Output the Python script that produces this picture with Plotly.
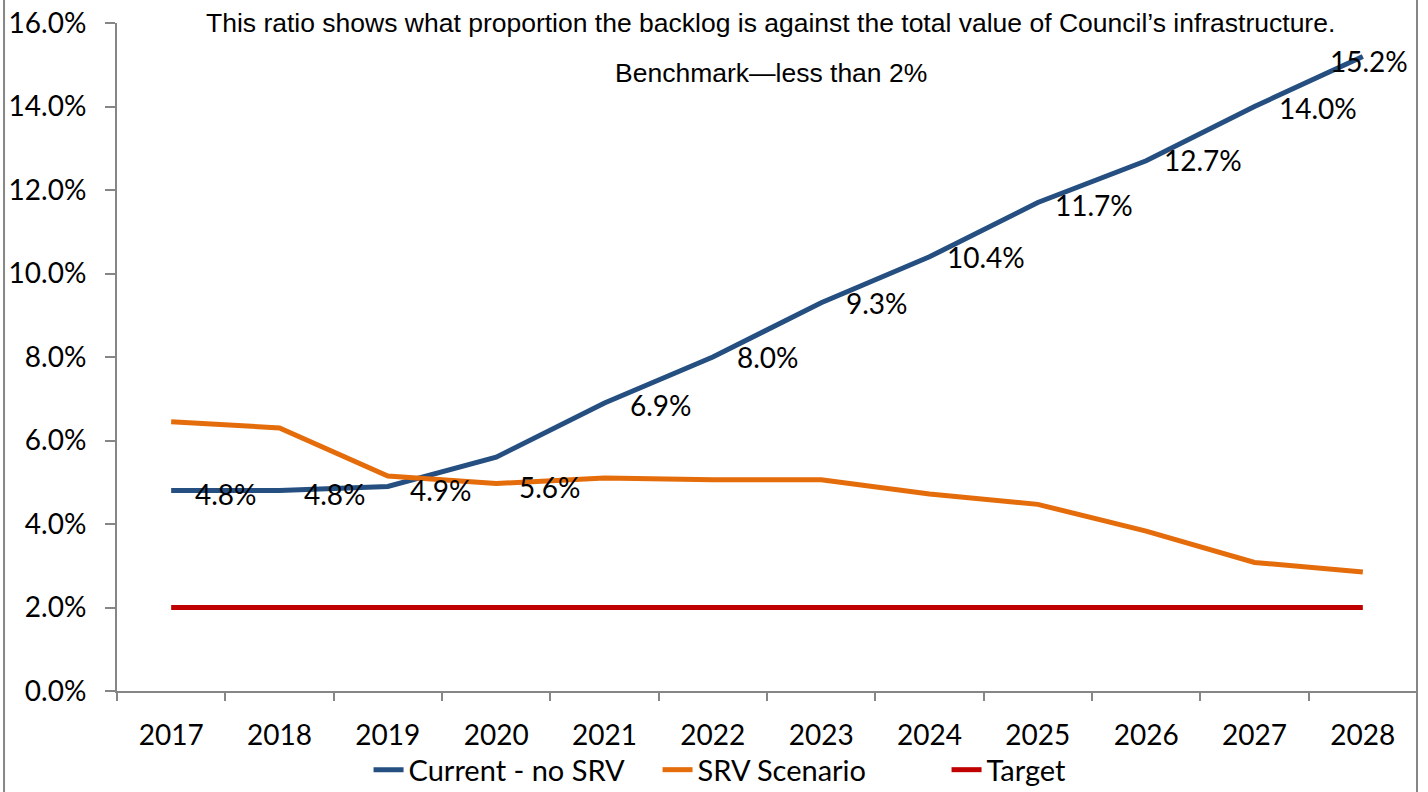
import plotly.graph_objects as go

years = ["2017", "2018", "2019", "2020", "2021", "2022", "2023", "2024", "2025", "2026", "2027", "2028"]
current_no_srv = [4.8, 4.8, 4.9, 5.6, 6.9, 8.0, 9.3, 10.4, 11.7, 12.7, 14.0, 15.2]
srv_scenario = [6.45, 6.3, 5.15, 4.97, 5.1, 5.06, 5.06, 4.72, 4.47, 3.83, 3.08, 2.85]
target = [2.0] * 12
current_labels = ["4.8%", "4.8%", "4.9%", "5.6%", "6.9%", "8.0%", "9.3%", "10.4%", "11.7%", "12.7%", "14.0%", "15.2%"]

FONT = "Lato"
GRAY = "#868686"

fig = go.Figure()
fig.add_trace(go.Scatter(x=years, y=[v / 100 for v in current_no_srv], mode="lines",
                         name="Current - no SRV", line=dict(color="#254F80", width=5)))
fig.add_trace(go.Scatter(x=years, y=[v / 100 for v in srv_scenario], mode="lines",
                         name="SRV Scenario", line=dict(color="#E46C0A", width=5)))
fig.add_trace(go.Scatter(x=years, y=[v / 100 for v in target], mode="lines",
                         name="Target", line=dict(color="#C00000", width=5)))

xshifts = [55, 55, 53, 54, 56, 55, 56, 56, 56, 57, 63, 6]
yshifts = [-3, -3, -4, -30, -2, 0, 0, 0, -2, 1, -1, -5]
annotations = []
for i, (v, lab) in enumerate(zip(current_no_srv, current_labels)):
    annotations.append(dict(xref="x", yref="y", x=i, y=v / 100, text=lab, showarrow=False,
                            xanchor="center", yanchor="middle",
                            xshift=xshifts[i], yshift=yshifts[i],
                            font=dict(family=FONT, size=28, color="black")))

annotations.append(dict(xref="paper", yref="paper", x=0.503, y=1.0,
                        text="This ratio shows what proportion the backlog is against the total value of Council\u2019s infrastructure.",
                        showarrow=False, xanchor="center", yanchor="middle",
                        font=dict(family="Liberation Sans", size=26.5, color="black")))
annotations.append(dict(xref="paper", yref="paper", x=0.503, y=0.925,
                        text="Benchmark\u2014less than 2%",
                        showarrow=False, xanchor="center", yanchor="middle",
                        font=dict(family="Liberation Sans", size=26.5, color="black")))

fig.update_layout(
    width=1428, height=792,
    margin=dict(l=117, r=11, t=23, b=101, autoexpand=False),
    paper_bgcolor="white", plot_bgcolor="white",
    showlegend=True,
    legend=dict(orientation="h", x=0.1935, xanchor="left", y=-0.118, yanchor="middle",
                font=dict(family=FONT, size=29, color="black"),
                entrywidth=244, entrywidthmode="pixels",
                traceorder="normal", bgcolor="rgba(0,0,0,0)"),
    annotations=annotations,
    shapes=[
        dict(type="line", xref="paper", yref="paper", x0=1, x1=1, y0=-0.2, y1=1.1,
             line=dict(color=GRAY, width=2)),
        dict(type="line", xref="paper", yref="paper", x0=-0.0869, x1=-0.0869, y0=-0.2, y1=1.1,
             line=dict(color=GRAY, width=2)),
    ],
)
fig.update_xaxes(type="category", range=[-0.5, 11.5], showline=True, linecolor=GRAY, linewidth=2,
                 ticks="outside", tickson="boundaries", ticklen=8, tickcolor=GRAY, tickwidth=2,
                 showgrid=False, zeroline=False, ticklabelstandoff=18, automargin=False,
                 tickfont=dict(family=FONT, size=28, color="black"))
fig.update_yaxes(range=[0, 0.16], dtick=0.02, tickformat=".1%", showline=True, linecolor=GRAY, linewidth=2,
                 ticks="outside", ticklen=10, tickcolor=GRAY, tickwidth=2,
                 showgrid=False, zeroline=False, ticklabelstandoff=13, automargin=False,
                 tickfont=dict(family=FONT, size=28, color="black"))

fig.write_html("out.html")
